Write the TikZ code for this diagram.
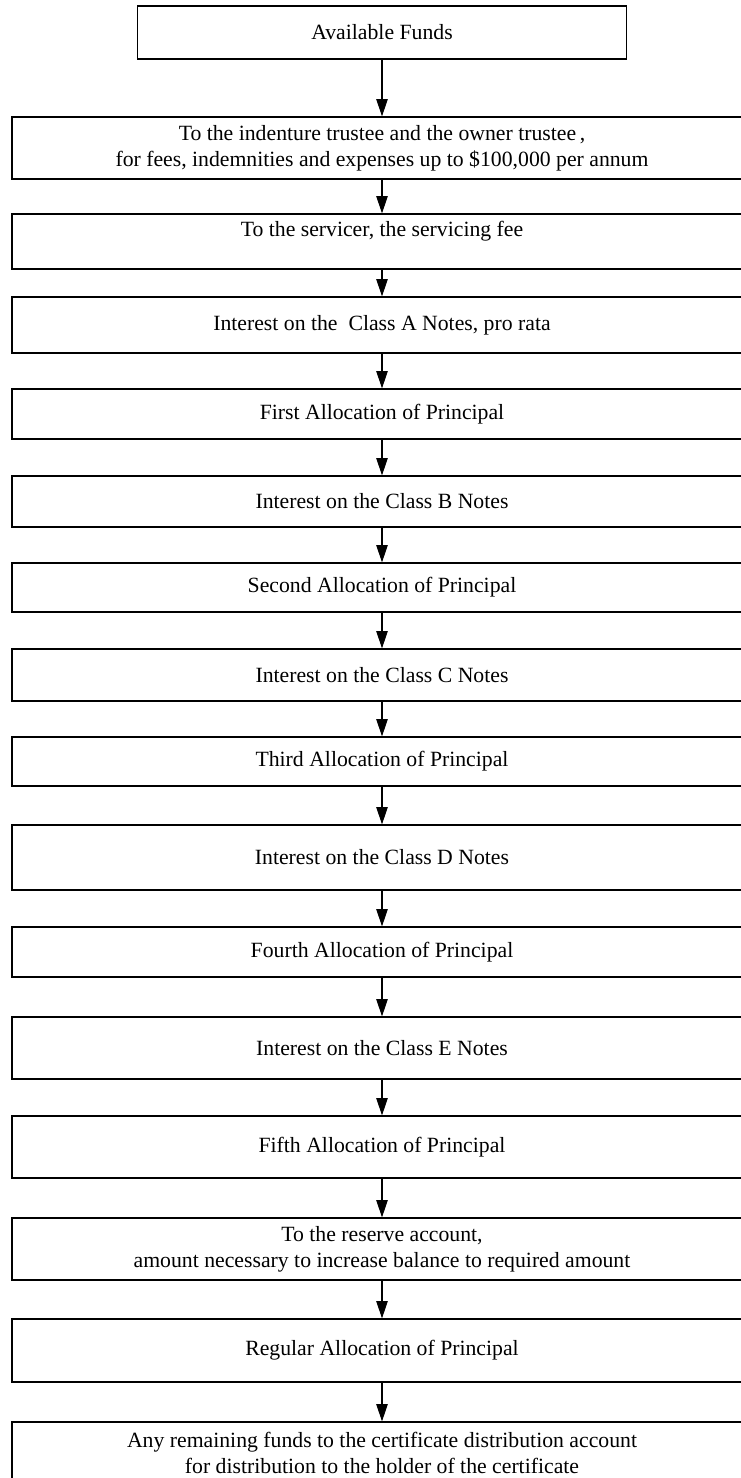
\documentclass[tikz,border=0pt]{standalone}
\usepackage{fontspec}
\setmainfont{Liberation Serif}
\usetikzlibrary{arrows.meta}
\tikzset{
  waterfall/.style={draw=black, line width=0.8pt, rectangle, align=center, inner sep=0pt,
    minimum width=555pt, font=\fontsize{16.3pt}{19.3pt}\selectfont},
  flow/.style={-{Triangle[length=13pt, width=8.5pt]}, line width=0.8pt}
}
\begin{document}
\begin{tikzpicture}[x=0.75pt, y=-0.75pt]
  \useasboundingbox (0,0) rectangle (741,1478);

  \node[waterfall, minimum width=366.75pt, minimum height=39.75pt] (funds) at (382,32.5) {Available Funds};
  \node[waterfall, minimum height=46.5pt] (trustee) at (382,148) {To the indenture trustee and the owner trustee\,,\\for fees, indemnities and expenses up to \$100,000 per annum};
  \node[waterfall, minimum height=41.25pt] (servicer) at (382,241.5) {To the servicer, the servicing fee\\~};
  \node[waterfall, minimum height=42pt] (intA) at (382,325) {Interest on the\ \ Class A Notes, pro rata};
  \node[waterfall, minimum height=37.5pt] (prinA) at (382,414) {First Allocation of Principal};
  \node[waterfall, minimum height=38.25pt] (intB) at (382,501.5) {Interest on the Class B Notes};
  \node[waterfall, minimum height=36.75pt] (prinB) at (382,587.5) {Second Allocation of Principal};
  \node[waterfall, minimum height=39pt] (intC) at (382,675) {Interest on the Class C Notes};
  \node[waterfall, minimum height=36.75pt] (prinC) at (382,761.5) {Third Allocation of Principal};
  \node[waterfall, minimum height=48.75pt] (intD) at (382,857.5) {Interest on the Class D Notes};
  \node[waterfall, minimum height=37.5pt] (prinD) at (382,952) {Fourth Allocation of Principal};
  \node[waterfall, minimum height=46.5pt] (intE) at (382,1048) {Interest on the Class E Notes};
  \node[waterfall, minimum height=46.5pt] (prinE) at (382,1147) {Fifth Allocation of Principal};
  \node[waterfall, minimum height=46.5pt] (reserve) at (382,1249) {To the reserve account,\\amount necessary to increase balance to required amount};
  \node[waterfall, minimum height=47.25pt] (regular) at (382,1350.5) {Regular Allocation of Principal};
  \node[waterfall, minimum height=46.5pt] (residual) at (382,1453) {Any remaining funds to the certificate distribution account\\for distribution to the holder of the certificate};

  \draw[flow] (funds.south) -- (trustee.north);
  \draw[flow] (trustee.south) -- (servicer.north);
  \draw[flow] (servicer.south) -- (intA.north);
  \draw[flow] (intA.south) -- (prinA.north);
  \draw[flow] (prinA.south) -- (intB.north);
  \draw[flow] (intB.south) -- (prinB.north);
  \draw[flow] (prinB.south) -- (intC.north);
  \draw[flow] (intC.south) -- (prinC.north);
  \draw[flow] (prinC.south) -- (intD.north);
  \draw[flow] (intD.south) -- (prinD.north);
  \draw[flow] (prinD.south) -- (intE.north);
  \draw[flow] (intE.south) -- (prinE.north);
  \draw[flow] (prinE.south) -- (reserve.north);
  \draw[flow] (reserve.south) -- (regular.north);
  \draw[flow] (regular.south) -- (residual.north);

\end{tikzpicture}
\end{document}
